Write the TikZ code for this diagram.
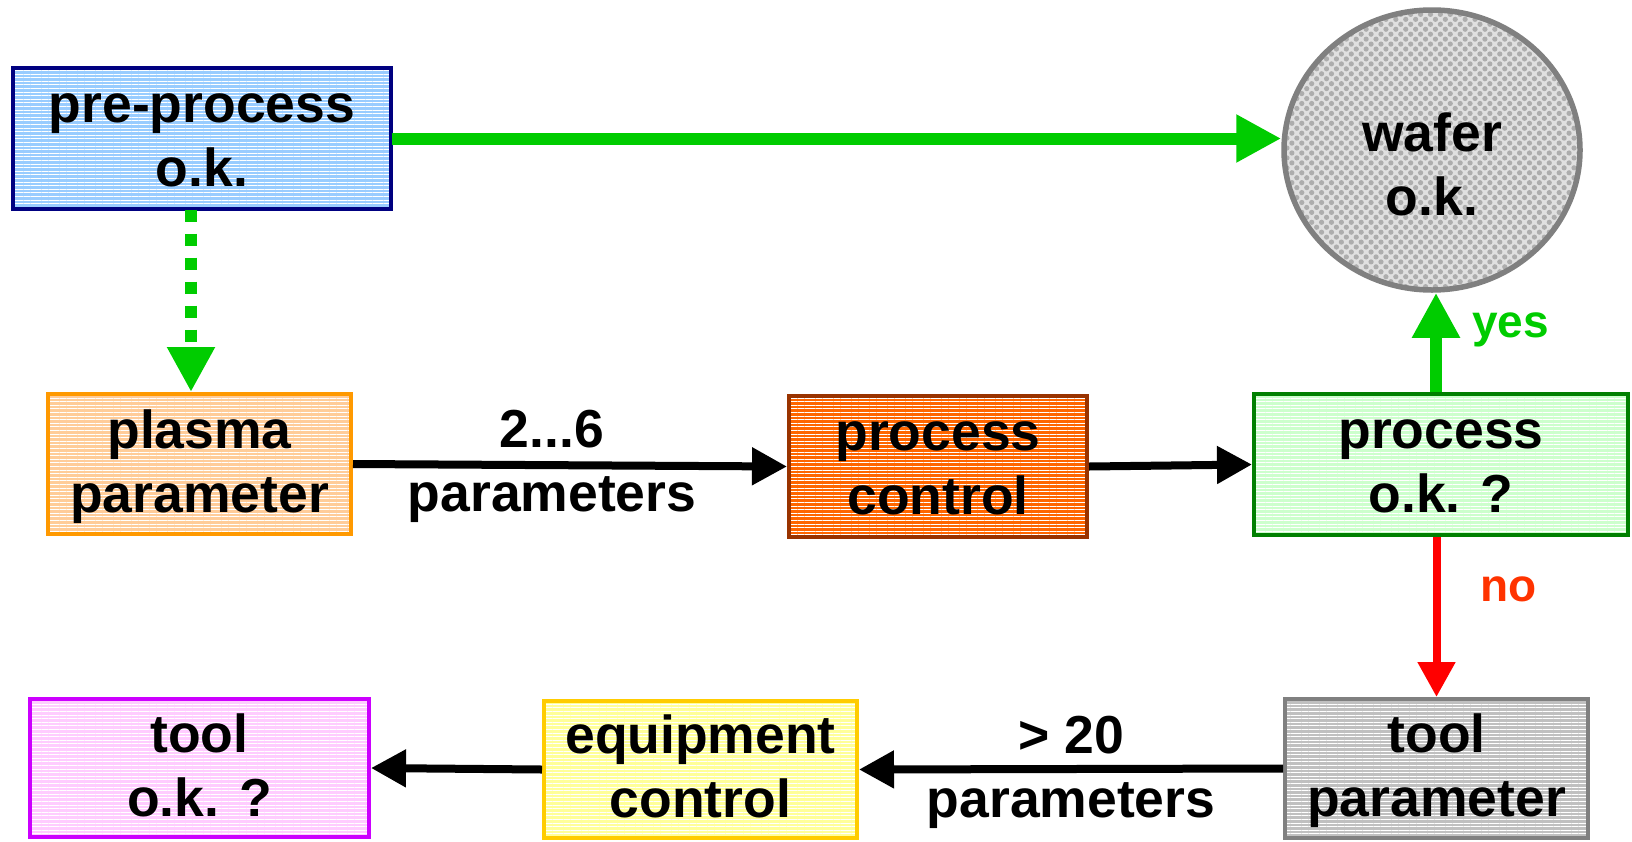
\documentclass[tikz,border=0pt]{standalone}
\usepackage{fontspec}
\setmainfont{Liberation Sans}
\usetikzlibrary{arrows.meta,patterns.meta,shapes.geometric}
\definecolor{preF}{HTML}{99CCFF}\definecolor{preD}{HTML}{000080}
\definecolor{plaF}{HTML}{FFCC99}\definecolor{plaD}{HTML}{FF9900}
\definecolor{pcF}{HTML}{FF6600}\definecolor{pcD}{HTML}{993300}
\definecolor{pokF}{HTML}{CCFFCC}\definecolor{pokD}{HTML}{008000}
\definecolor{tokF}{HTML}{FFCCFF}\definecolor{tokD}{HTML}{CC00FF}
\definecolor{eqF}{HTML}{FFFF99}\definecolor{eqD}{HTML}{FFCC00}
\definecolor{tpF}{HTML}{C0C0C0}\definecolor{tpD}{HTML}{808080}
\definecolor{arrG}{HTML}{00CC00}\definecolor{arrR}{HTML}{FF0000}
\definecolor{noC}{HTML}{FF3300}
\newcommand\ls{\rule[-16pt]{0pt}{64pt}}
\begin{document}
\begin{tikzpicture}[x=1pt,y=-1pt,
  bigfont/.style={font=\bfseries\fontsize{53.5}{64}\selectfont},
  box/.style={draw, line width=4pt, inner sep=0pt, align=center, bigfont, text=black},
  stripes/.style={preaction={fill=#1}, pattern={Lines[angle=0,distance=3.6pt,line width=1pt]}, pattern color=white},
  blackarrow/.style={line width=8pt, -{Triangle[length=35pt,width=36pt]}},
  greenarrow/.style={arrG, line width=12pt, -{Triangle[length=45pt,width=45pt]}},
  redarrow/.style={arrR, line width=8pt, -{Triangle[length=35pt,width=36pt]}},
  lbl/.style={align=center, bigfont, inner sep=0pt},
  small/.style={font=\bfseries\fontsize{46}{54}\selectfont, inner sep=0pt}
]
\useasboundingbox (0,0) rectangle (1632,841);

\node[box, draw=preD, stripes=preF, minimum width=378pt, minimum height=141pt] (pre) at (202,138.5) {pre-process\ls\\o.k.\ls};
\node[box, draw=plaD, stripes=plaF, minimum width=303pt, minimum height=140pt] (pla) at (199.5,464) {plasma\ls\\parameter\ls};
\node[box, draw=pcD, stripes=pcF, minimum width=298pt, minimum height=141pt] (pc) at (938,466.5) {process\ls\\control\ls};
\node[box, draw=pokD, stripes=pokF, minimum width=374pt, minimum height=141pt] (pok) at (1441,464.5) {process\ls\\o.k. ?\ls};
\node[box, draw=tokD, stripes=tokF, minimum width=339pt, minimum height=138pt] (tok) at (199.5,768) {tool\ls\\o.k. ?\ls};
\node[box, draw=eqD, stripes=eqF, minimum width=313pt, minimum height=137pt] (eq) at (700.5,769.5) {equipment\ls\\control\ls};
\node[box, draw=tpD, stripes=tpF, minimum width=303pt, minimum height=139pt] (tp) at (1436.5,768.5) {tool\ls\\parameter\ls};
\node[ellipse, draw=tpD, line width=5.5pt, inner sep=0pt, minimum width=296pt, minimum height=280pt,
      preaction={fill=white!88!black}, pattern={Dots[angle=45,distance=7pt,radius=2.6pt]}, pattern color=black!32] (wafer) at (1432,150) {};
\node[lbl] (wtext) at ([yshift=-17.5pt]wafer.center) {wafer\ls\\o.k.\ls};

% connectors
\draw[greenarrow] (pre.east) -- (pre.east -| wafer.west);
\draw[greenarrow, dash pattern=on 12pt off 12pt] ([xshift=-11pt]pre.south) -- ([xshift=-11pt]pre.south |- pla.north);
\draw[blackarrow] (pla.east) -- (pc.west)
  node[lbl, midway, xshift=-18pt, yshift=2pt] {2...6\ls\\parameters\ls};
\draw[blackarrow] (pc.east) -- (pok.west);
\draw[greenarrow] ([xshift=-5pt]pok.north) -- ([xshift=-5pt]pok.north |- wafer.south)
  node[small, text=arrG, pos=0.63, right=30pt] {yes};
\draw[redarrow] (tp.north |- pok.south) -- (tp.north)
  node[small, text=noC, pos=0.33, right=40pt] {no};
\draw[blackarrow] (tp.west) -- (eq.east)
  node[lbl, midway] {> 20\ls\\parameters\ls};
\draw[blackarrow] (eq.west) -- (tok.east);
\end{tikzpicture}
\end{document}
